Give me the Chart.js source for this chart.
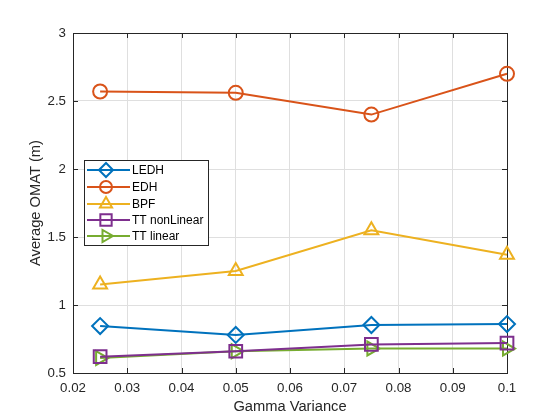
<!DOCTYPE html>
<html>
<head>
<meta charset="utf-8">
<script src="https://cdn.jsdelivr.net/npm/chart.js@4.4.1/dist/chart.umd.min.js"></script>
<style>
  html, body { margin: 0; padding: 0; background: #fff; }
  #wrap { width: 560px; height: 420px; }
</style>
</head>
<body>
<div id="wrap"><canvas id="c" width="560" height="420"></canvas></div>
<script>
const gammaVar = [0.025, 0.05, 0.075, 0.1];
const ledh = [0.845, 0.78, 0.853, 0.86];
const edh = [2.57, 2.56, 2.40, 2.70];
const bpf = [1.15, 1.25, 1.55, 1.37];
const ttNonLinear = [0.62, 0.66, 0.71, 0.72];
const ttLinear = [0.61, 0.66, 0.68, 0.68];
const xTicks = [0.02, 0.03, 0.04, 0.05, 0.06, 0.07, 0.08, 0.09, 0.1];
const yTicks = [0.5, 1, 1.5, 2, 2.5, 3];

const FONT = 'Helvetica, Arial, "Liberation Sans", sans-serif';
const AXIS = '#262626';

function pts(vals) { return gammaVar.map((x, i) => ({ x, y: vals[i] })); }

const series = [
  { label: 'LEDH', data: ledh, color: '#0072BD', style: 'rectRot', r: 8, rot: 0 },
  { label: 'EDH', data: edh, color: '#D95319', style: 'circle', r: 7, rot: 0 },
  { label: 'BPF', data: bpf, color: '#EDB120', style: 'triangle', r: 8, rot: 0 },
  { label: 'TT nonLinear', data: ttNonLinear, color: '#7E2F8E', style: 'rect', r: 9, rot: 0 },
  { label: 'TT linear', data: ttLinear, color: '#77AC30', style: 'triangle', r: 8, rot: 90 }
];

// box, inner ticks and legend drawn like matlab
const matlabAxes = {
  id: 'matlabAxes',
  beforeDatasetsDraw(chart) {
    const { ctx, chartArea: a, scales } = chart;
    ctx.save();
    ctx.strokeStyle = AXIS;
    ctx.lineWidth = 1;
    ctx.strokeRect(a.left + 0.5, a.top + 0.5, a.right - a.left, a.bottom - a.top);
    ctx.beginPath();
    xTicks.forEach(v => {
      const px = Math.round(scales.x.getPixelForValue(v)) + 0.5;
      ctx.moveTo(px, a.bottom); ctx.lineTo(px, a.bottom - 5);
      ctx.moveTo(px, a.top); ctx.lineTo(px, a.top + 5);
    });
    yTicks.forEach(v => {
      const py = Math.round(scales.y.getPixelForValue(v)) + 0.5;
      ctx.moveTo(a.left, py); ctx.lineTo(a.left + 5, py);
      ctx.moveTo(a.right, py); ctx.lineTo(a.right - 5, py);
    });
    ctx.stroke();
    ctx.restore();
  },
  afterDraw(chart) {
    const ctx = chart.ctx;
    ctx.save();
    const lx = 84, ly = 160, lw = 124, lh = 85;
    ctx.fillStyle = '#fff';
    ctx.fillRect(lx, ly, lw, lh);
    ctx.strokeStyle = AXIS;
    ctx.lineWidth = 1;
    ctx.strokeRect(lx + 0.5, ly + 0.5, lw, lh);
    ctx.font = '12px ' + FONT;
    ctx.textBaseline = 'middle';
    const rowY = [170, 187, 204, 220, 236];
    series.forEach((s, i) => {
      const y = rowY[i];
      ctx.strokeStyle = s.color;
      ctx.lineWidth = 2;
      ctx.beginPath(); ctx.moveTo(87, y); ctx.lineTo(130, y); ctx.stroke();
      ctx.fillStyle = 'rgba(0,0,0,0)';
      Chart.helpers.drawPoint(ctx, { pointStyle: s.style, radius: s.r - 1, rotation: s.rot, borderWidth: 2 }, 106, y);
      ctx.fillStyle = '#000';
      ctx.fillText(s.label, 132, y + 1);
    });
    ctx.restore();
  }
};

new Chart(document.getElementById('c'), {
  type: 'line',
  data: {
    datasets: series.map(s => ({
      label: s.label,
      data: pts(s.data),
      borderColor: s.color,
      backgroundColor: 'rgba(0,0,0,0)',
      borderWidth: 2,
      pointStyle: s.style,
      pointRadius: s.r,
      pointRotation: s.rot,
      pointBorderWidth: 2,
      pointBorderColor: s.color,
      pointBackgroundColor: 'rgba(0,0,0,0)',
      tension: 0,
      clip: false
    }))
  },
  options: {
    responsive: false,
    animation: false,
    layout: { padding: { left: 0, right: 53, top: 33, bottom: 0 } },
    plugins: { legend: { display: false }, tooltip: { enabled: false } },
    scales: {
      x: {
        type: 'linear', min: 0.02, max: 0.1,
        afterFit(s) { s.height = 47; },
        afterBuildTicks(s) { s.ticks = xTicks.map(v => ({ value: v })); },
        grid: { color: '#dfdfdf', drawTicks: false },
        border: { display: false },
        ticks: { color: AXIS, font: { family: FONT, size: 13.3 }, padding: 7, maxRotation: 0,
          callback: v => String(+v.toFixed(2)) },
        title: { display: true, text: 'Gamma Variance', color: AXIS, font: { family: FONT, size: 14.7 }, padding: { top: 0 } }
      },
      y: {
        min: 0.5, max: 3,
        afterFit(s) { s.width = 73; },
        afterBuildTicks(s) { s.ticks = yTicks.map(v => ({ value: v })); },
        grid: { color: '#dfdfdf', drawTicks: false },
        border: { display: false },
        ticks: { color: AXIS, font: { family: FONT, size: 13.3 }, padding: 7,
          callback: v => String(v) },
        title: { display: true, text: 'Average OMAT (m)', color: AXIS, font: { family: FONT, size: 14.7 }, padding: { top: 27, bottom: 0 } }
      }
    }
  },
  plugins: [matlabAxes]
});
</script>
</body>
</html>
